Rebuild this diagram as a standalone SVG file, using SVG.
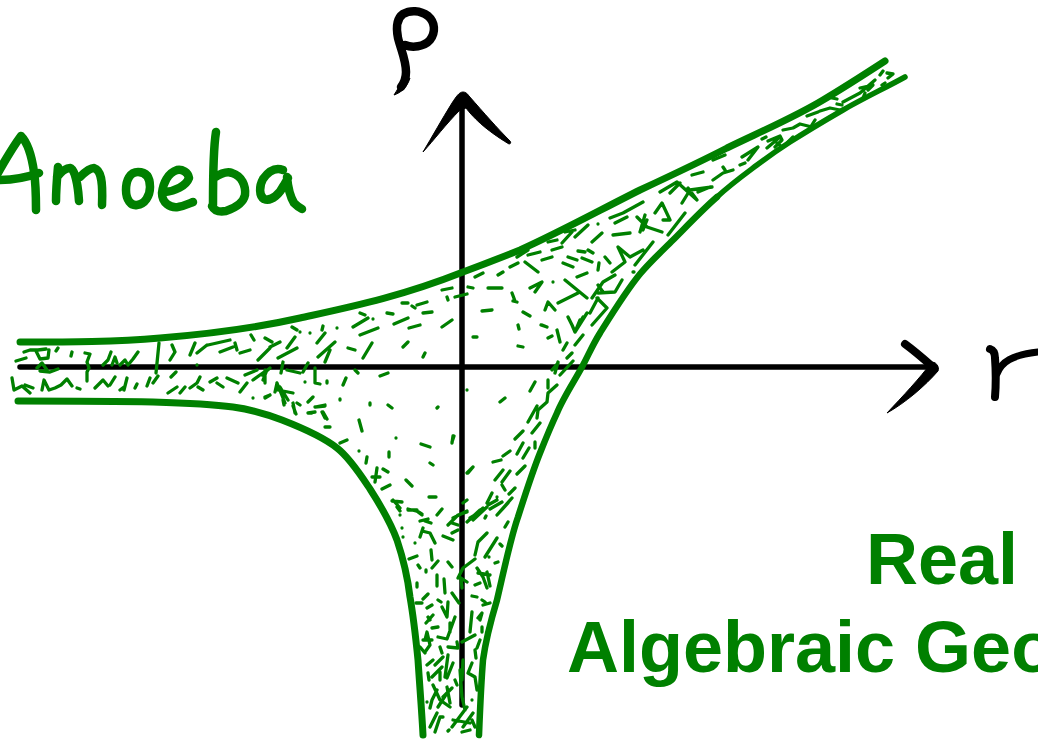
<svg xmlns="http://www.w3.org/2000/svg" width="1038" height="739" viewBox="0 0 1038 739">
<style>
.g{fill:none;stroke:#008000;stroke-linecap:round;stroke-linejoin:round}
.k{fill:none;stroke:#000;stroke-linecap:round;stroke-linejoin:round}
.kf{fill:#000;stroke:#000;stroke-width:1;stroke-linejoin:round}
.t{font-family:"Liberation Sans",Arial,sans-serif;font-weight:700;font-size:72px;fill:#008000}
</style>
<rect width="1038" height="739" fill="#fff"/>
<g id="axes">
<path class="k" stroke-width="5.5" d="M20 367H932"/>
<path class="k" stroke-width="5.5" d="M462 100V705"/>
<path class="kf" d="M463 92C459 92 456 97 452 103C442 119 432 137 423 152C434 140 446 124 460 110L466 108C472 116 484 129 509 144C511 144 511 142 510 141C497 128 484 113 469 96C467 93 465 92 463 92Z"/>
<path class="k" stroke-width="8" d="M905 344C916 352 926 361 934 368"/>
<path class="kf" d="M931 363C920 378 903 396 887 413C905 403 925 386 938 371C940 367 935 360 931 363Z"/>
</g>
<g id="label-p">
<path class="k" stroke-width="8.5" d="M405 45C412 48 424 47 430 40C436 32 435 22 428 16C420 10 410 10 403 14C396 19 396 28 398 38C401 50 406 60 406 72C406 78 404 83 401 87"/>
<path class="kf" d="M402 80C400 86 397 90 394 95C400 93 407 88 410 78Z"/>
</g>
<g id="label-r">
<path class="k" stroke-width="8" d="M990 349C993 350 995 353 995 358C996 372 996 385 995 397"/>
<path class="k" stroke-width="7" d="M997 374C1001 362 1012 355 1038 352"/>
</g>
<g id="label-amoeba" class="g" stroke-width="8.5">
<path d="M-6 180C4 162 12 148 21 136C28 143 32 158 34 172C36 185 36 198 36 210"/>
<path d="M-2 180C14 180 28 177 39 173"/>
<path d="M58 167C57 178 56 190 56 201M57 177C61 172 66 168 70 168C75 169 78 185 79 201M80 177C85 172 90 168 94 168C101 170 103 180 102 205"/>
<path d="M138 172C130 172 126 180 126 190C126 200 131 206 137 205C145 204 150 196 150 187C150 177 146 172 138 172Z"/>
<path d="M165 192C175 191 186 186 189 178C188 172 182 169 177 170C168 173 163 183 162 193C162 203 170 208 178 207C184 206 188 204 193 202"/>
<path d="M216 132C213 150 213 185 213 205M214 178C220 174 227 171 232 173C242 176 246 186 245 195C243 205 232 209 226 211C220 212 215 212 212 206"/>
<path d="M283 170C275 167 268 172 263 179C259 186 259 196 264 199C272 202 280 193 284 185L288 178M287 177C288 188 291 198 294 203C297 206 300 208 302 209"/>
</g>
<g id="amoeba">
<path id="edge-top" class="g" stroke-width="7" d="M20 342C70 342 115 342 160 338C210 334 260 327 300 318C350 307 400 297 463 272C490 262 505 256 520 250C560 232 600 210 640 190C670 176 700 162 727 148C760 132 795 117 823 100C845 87 865 74 885 61"/>
<path id="edge-left" class="g" stroke-width="7" d="M18 401C60 401 110 401 153 402C185 403 210 404 233 407C248 409 264 413 282 420C300 427 322 436 337 448C350 458 362 477 370 489C379 503 390 521 397 540C403 558 408 580 410 597C414 620 416 640 418 660C420 690 422 715 423 735"/>
<path id="edge-right" class="g" stroke-width="6.5" d="M479 735C480 710 481 685 483 660C486 638 491 620 497 600C503 575 510 540 518 517C525 495 532 473 540 453C546 438 550 428 557 413C563 398 575 380 582 367C589 354 592 346 600 333C610 317 626 291 640 274C650 262 662 251 673 240C686 227 703 209 717 197"/>
<path id="edge-right-tip" class="g" stroke-width="5.5" d="M717 197C731 184 745 174 757 165C769 156 776 151 790 142C804 133 824 121 843 110C862 99 885 88 905 77"/>
<path id="stipple" class="g" stroke-width="3.3" d="
M16 361 26 358M24 352 30 350 38 350 46 349M36 351 40 359 48 358 49 350M37 368 42 363 47 370M40 371 50 372 58 369M56 351 58 348M71 356 72 352M85 353 90 354 87 362 89 368 87 372 87 381M103 365 108 360 111 352M112 365 115 357 117 363M120 365 125 360 128 365 133 359 138 352M159 343 156 373
M12 378 14 390 22 386 30 393M25 385 33 388M42 390 44 380 49 390 55 388 61 385 67 379 72 386M77 388 80 389M95 388 103 380 108 386M110 385 115 377M120 390 124 387M127 378 124 390M135 388 137 384M147 386 150 378M153 383 158 376M176 372 171 377M172 345 175 352 170 360M190 355 195 343M197 353 207 345M208 345 230 340M220 352 233 347M235 343 237 350M240 353 250 350M251 335 254 340M197 365 197 365
M168 393 177 387M180 393 185 387M190 388 197 383 200 377M198 387 203 390M210 382 217 378M217 383 223 387M227 378 238 383M240 392 247 383M245 375 257 370M253 380 267 370 263 380M253 398 253 398M265 397 270 395M277 383 285 403M278 390 293 393M293 403 295 413M308 413 315 412M310 400 313 397M315 407 325 405M322 412 325 418M325 427 330 427
M258 360 270 348M265 338 272 342M270 347 280 342M278 358 297 348M287 348 295 337M292 327 297 330M310 333 310 333M300 332 300 332M317 343 325 333M322 330 323 326M337 328 337 328M325 362 330 350M318 357 335 342M348 348 355 350M353 327 368 318M360 335 378 328M363 358 372 343M360 313 365 315M373 319 373 319M387 313 393 314M394 324 408 318M409 328 420 325M402 303 408 303M412 306 415 308M417 305 427 302M423 313 432 312M442 327 452 320M403 347 408 342M423 357 425 353M473 337 477 337
M380 376 388 373M355 370 358 373M343 385 346 378M327 383 327 381M315 368 315 383 320 384M305 382 305 382M308 363 303 372M287 370 300 373M283 362 281 373M265 370 265 383M270 368 262 375M340 400 340 399M370 403 370 405M388 405 392 408M438 407 437 408M467 390 467 390M359 420 362 431M396 438 396 438M421 444 430 447M453 436 452 443M359 451 359 451M367 457 366 463M389 452 389 457M430 463 433 465M473 467 467 473M377 468 375 482M372 477 380 477M383 469 388 472M382 489 390 485M406 480 412 486M429 497 436 497M392 501 402 502M397 507 400 511M408 510 417 510M418 512 422 515M437 515 442 509M463 503 467 500M453 518 467 511M470 518 480 512M340 443 347 440M312 398 308 402M315 407 325 406M323 412 327 419M310 413 312 413M293 406 296 414M297 403 300 405M283 400 284 405M277 383 275 392M280 387 288 400M265 398 270 395
M518 325 519 329M541 325 547 327M548 338 552 336M557 330 560 342M563 350 567 343M567 358 572 353M575 345 583 335M575 332 580 320M518 346 523 347M552 370 558 363M555 373 558 362M560 375 573 361M530 391 535 382M548 380 548 388M557 385 548 393 547 402 538 410 537 418M500 402 505 398M528 422 537 406M532 433 540 423M515 439 523 431M452 442 454 436M535 448 535 442M517 454 523 443M523 458 529 448M493 462 501 460M503 456 510 451M517 474 525 466M468 473 473 467M495 480 503 470M502 482 510 471M502 485 505 490M509 494 515 488M487 503 492 493M497 497 497 497M490 509 502 502M497 515 512 498M472 518 483 508M485 518 486 516
M393 500 400 508M400 515 400 515M408 509 416 511M419 512 422 514M420 521 428 519M422 531 430 533 435 543M425 521 431 523M448 525 458 515 467 512M452 523 458 525M467 522 480 510M473 520 487 507M497 515 508 503M488 505 497 500M505 527 508 522M402 528 402 528M403 537 403 537M420 537 423 528M415 543 415 543M443 536 453 540M452 533 458 530M475 555 478 542 487 533M485 557 497 538M500 544 502 546M489 557 489 557M495 563 498 562M409 559 417 556M432 560 431 550M432 568 438 561M448 562 452 567M418 565 420 568M426 572 426 570M458 578 463 568 475 559M462 588 461 578 467 582M477 568 483 577 487 588M478 573 490 575M487 572 490 586M480 583 475 585M437 575 437 586M417 583 417 587M444 579 445 593M452 593 459 603M428 594 423 599M416 603 422 603M427 608 432 605M438 600 441 602M442 607 447 617 448 602M472 596 477 597M483 605 490 603M482 600 485 602M478 618 482 613 480 620M472 612 470 632M426 623 433 615M428 617 430 620M432 628 438 627M438 637 447 639 455 617M450 623 450 632M425 640 427 632 430 645 425 652M420 647 425 653M423 640 432 640M440 647 442 653M448 647 458 648 457 642M462 642 475 635M482 627 482 632M480 640 477 648M475 650 476 658M443 657 435 665M427 665 433 660M448 655 445 677M453 663 447 678M432 677 442 667M428 673 429 680M440 672 440 680M455 680 457 685M463 660 462 680M472 663 468 673 475 677 477 690M433 685 440 700 450 707M437 690 432 700 430 708M443 697 452 688M447 687 450 703M438 707 447 693M427 702 427 702M460 670 462 697 465 710M472 700 472 700M467 707 455 723 452 727M453 720 470 723M473 713 463 727M435 732 440 717 443 717M430 727 437 713M462 732 470 730M448 731 449 730M472 720 475 727
M442 290 452 288M447 297 448 300M455 297 467 294M468 287 473 288M475 277 483 273M498 275 503 272M488 288 502 288M510 267 518 263M517 257 528 250M525 262 538 272M528 255 540 252M542 260 552 257M548 242 557 240M552 250 562 247M562 243 572 232M565 232 575 230M575 237 588 225M592 242 602 233M598 224 598 224M578 251 585 252M568 257 577 260M582 258 592 262M588 250 593 253M563 263 573 267M598 270 599 263M605 257 610 263M577 277 587 273M553 282 553 282M530 288 542 282 535 292M565 280 587 298M558 303 578 293M545 310 548 302 555 310M482 311 492 310M512 293 515 301M513 301 517 302M523 312 530 316M442 327 452 320M542 325 547 327M568 317 572 325 575 332 587 313M583 317 577 327M592 325 607 308 597 298M592 298 603 282 615 275M598 293 615 292 622 280M598 285 603 292M590 313 598 298M612 272 625 262 618 247 630 257 643 250M633 272 634 272M635 265 653 242M640 232 645 215M613 235 630 233M610 218 623 213 643 202M615 223 627 217M637 217 647 227 662 232M643 230 647 220M655 213 662 203 670 220 663 220M668 235 685 213M660 192 677 182 697 200 688 188M670 193 680 183M682 203 690 190 712 187M698 192 710 187M692 175 703 172M713 180 723 173 733 170M723 167 725 170M713 160 725 155M742 157 758 147 748 160M740 165 745 163M762 139 766 137M767 148 780 137M777 143 782 147M788 142 793 137M768 141 780 136 782 140 775 147M783 130 793 128 800 124 812 127M807 116 818 112M810 128 815 120M820 111 830 108 840 110M830 117 842 110M832 98 837 99M837 104 842 105M843 102 860 93 875 80M860 88 873 85 868 90M863 98 865 93M880 75 883 71M887 73 893 74 888 78M882 85 885 83"/>
</g>
<g id="title">
<text class="t" x="866" y="584">Real</text>
<text class="t" x="567" y="672">Algebraic Geo</text>
</g>
</svg>
